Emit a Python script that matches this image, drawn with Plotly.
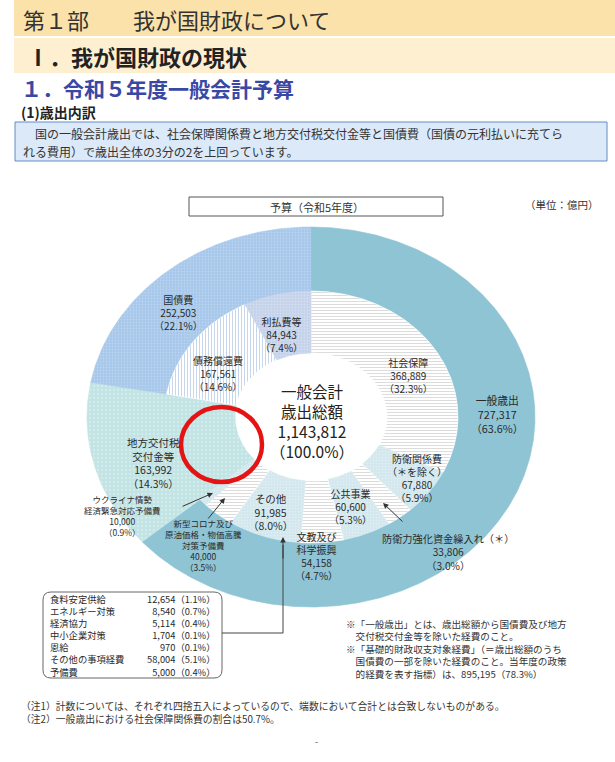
import math
import plotly.graph_objects as go

# ---------------- data ----------------
TOTAL_NAME = ["一般会計", "歳出総額"]
TOTAL_VALUE = 1143812
TOTAL_PCT = 100.0

outer_names = ["一般歳出", "地方交付税交付金等", "国債費"]
outer_values = [727317, 163992, 252503]
outer_pcts = [63.6, 14.3, 22.1]

inner_names = ["社会保障", "防衛関係費（＊を除く）", "防衛力強化資金繰入れ（＊）", "公共事業",
               "文教及び科学振興", "その他", "新型コロナ及び原油価格・物価高騰対策予備費",
               "ウクライナ情勢経済緊急対応予備費", "地方交付税交付金等", "債務償還費", "利払費等"]
inner_values = [368889, 67880, 33806, 60600, 54158, 91985, 40000, 10000, 163992, 167561, 84943]
inner_pcts = [32.3, 5.9, 3.0, 5.3, 4.7, 8.0, 3.5, 0.9, 14.3, 14.6, 7.4]
inner_label_lines = [["社会保障"], ["防衛関係費", "（＊を除く）"], ["防衛力強化資金繰入れ（＊）"], ["公共事業"],
                     ["文教及び", "科学振興"], ["その他"], ["新型コロナ及び", "原油価格・物価高騰", "対策予備費"],
                     ["ウクライナ情勢", "経済緊急対応予備費"], ["地方交付税", "交付金等"], ["債務償還費"], ["利払費等"]]
outer_label_lines = [["一般歳出"], None, ["国債費"]]

other_items = ["食料安定供給", "エネルギー対策", "経済協力", "中小企業対策", "恩給", "その他の事項経費", "予備費"]
other_values = [12654, 8540, 5114, 1704, 970, 58004, 5000]
other_pcts = [1.1, 0.7, 0.4, 0.1, 0.1, 5.1, 0.4]

# ---------------- layout constants ----------------
W, H = 615, 762
FONT = "Noto Sans CJK JP, sans-serif"
TXT = "#2a2a2a"
CX, CY = 311, 417
R_OUT = (224, 190)
R_MID = (147, 126)
R_HOLE = (76, 64)

STYLES = {
    "teal": dict(fillcolor="rgb(143,196,212)"),
    "blue": dict(fillcolor="rgb(166,199,234)",
                 fillpattern=dict(shape=".", bgcolor="rgb(166,199,234)", fgcolor="rgb(208,224,244)", size=3, solidity=0.3)),
    "green": dict(fillcolor="rgb(194,227,228)",
                  fillpattern=dict(shape=".", bgcolor="rgb(194,227,228)", fgcolor="rgb(228,243,243)", size=4, solidity=0.25)),
    "lines": dict(fillcolor="white",
                  fillpattern=dict(shape="-", bgcolor="white", fgcolor="rgb(178,178,178)", size=3, solidity=0.3)),
    "dots": dict(fillcolor="rgb(210,231,237)",
                 fillpattern=dict(shape=".", bgcolor="rgb(210,231,237)", fgcolor="rgb(238,246,248)", size=3, solidity=0.3)),
    "vlines": dict(fillcolor="white",
                   fillpattern=dict(shape="|", bgcolor="white", fgcolor="rgb(140,174,220)", size=3, solidity=0.35)),
    "bluelight": dict(fillcolor="rgb(196,210,233)",
                      fillpattern=dict(shape=".", bgcolor="rgb(196,210,233)", fgcolor="rgb(226,233,245)", size=3, solidity=0.3)),
}
outer_styles = ["teal", "green", "blue"]
inner_styles = ["lines", "dots", "lines", "dots", "lines", "dots", "lines", "dots", None, "vlines", "bluelight"]

# label placement: (x, block centre y, font size)
inner_label_pos = [(408, 375, 10), (417, 477.5, 10), (448, 551.5, 10.2), (350, 506, 10),
                   (316, 555.5, 10), (270, 511.5, 10.5), (203, 545, 8.5),
                   (122, 515, 8.5), (153, 462.5, 10.5), (218, 373, 10), (281, 334, 10)]
outer_label_pos = [(497, 413.5, 10.8), None, (178, 312, 10)]


def arc(t0, t1, rx, ry, n):
    pts = []
    for i in range(n + 1):
        t = math.radians(t0 + (t1 - t0) * i / n)
        pts.append((CX + rx * math.sin(t), CY - ry * math.cos(t)))
    return pts


def wedge(t0, t1, rin, rout):
    n = max(6, int(abs(t1 - t0) * 2))
    o = arc(t0, t1, rout[0], rout[1], n)
    i = arc(t1, t0, rin[0], rin[1], n)
    pts = o + i + [o[0]]
    return [p[0] for p in pts], [p[1] for p in pts]


def add_wedge(fig, t0, t1, rin, rout, style):
    st = STYLES[style]
    xs, ys = wedge(t0, t1, rin, rout)
    kw = dict(x=xs, y=ys, fill="toself", mode="lines",
              line=dict(width=0.6, color=st["fillcolor"]),
              fillcolor=st["fillcolor"], hoverinfo="skip", showlegend=False)
    if "fillpattern" in st:
        kw["fillpattern"] = st["fillpattern"]
    fig.add_trace(go.Scatter(**kw))


fig = go.Figure()

# outer ring
cum = 0
for name, v, style in zip(outer_names, outer_values, outer_styles):
    t0 = cum / TOTAL_VALUE * 360
    cum += v
    t1 = cum / TOTAL_VALUE * 360
    rin = R_HOLE if name in inner_names else R_MID
    add_wedge(fig, t0, t1, rin, R_OUT, style)

# inner ring
cum = 0
for name, v, style in zip(inner_names, inner_values, inner_styles):
    t0 = cum / TOTAL_VALUE * 360
    cum += v
    t1 = cum / TOTAL_VALUE * 360
    if name in outer_names:
        continue
    add_wedge(fig, t0, t1, R_HOLE, R_MID, style)

annotations = []


def txt(s, x, y, size, anchor="center", color=TXT, bold=False, align=None):
    if bold:
        s = "<b>" + s + "</b>"
    annotations.append(dict(text=s, x=x, y=y, xref="x", yref="y", xanchor=anchor, yanchor="middle",
                            align=align or ("left" if anchor == "left" else "right" if anchor == "right" else "center"),
                            showarrow=False, borderpad=0,
                            font=dict(family=FONT, size=size, color=color)))


def block(lines, x, yc, size, anchor="center", color=TXT):
    txt("<br>".join(lines), x, yc, size, anchor=anchor, color=color)


# slice labels
for lines, v, p, pos in zip(inner_label_lines, inner_values, inner_pcts, inner_label_pos):
    block(lines + [f"{v:,}", f"（{p:.1f}%）"], *pos)
for lines, v, p, pos in zip(outer_label_lines, outer_values, outer_pcts, outer_label_pos):
    if lines is None:
        continue
    block(lines + [f"{v:,}", f"（{p:.1f}%）"], *pos)

# center
block(TOTAL_NAME + [f"{TOTAL_VALUE:,}", f"（{TOTAL_PCT:.1f}%）"], 312, 421, 15.5, color="#222")


# arrows
def arrow(x0, y0, x1, y1):
    annotations.append(dict(text="", x=x1, y=y1, ax=x0, ay=y0, xref="x", yref="y", axref="x", ayref="y",
                            showarrow=True, arrowhead=2, arrowsize=1.1, arrowwidth=1, arrowcolor="#333",
                            standoff=0, startstandoff=0))


arrow(404, 523, 383, 503)
arrow(181, 507, 213, 493)
arrow(207, 520, 225, 498)
arrow(283, 560, 283, 537)

# headers
txt("第１部　　我が国財政について", 22, 19, 22, anchor="left", color="#333")
txt("Ⅰ．我が国財政の現状", 26, 56, 22, anchor="left", color="#222", bold=True)
txt("１．令和５年度一般会計予算", 20, 88, 21, anchor="left", color="rgb(58,72,165)", bold=True)
txt("(1)歳出内訳", 20, 112, 14, anchor="left", color="#222", bold=True)
txt("　国の一般会計歳出では、社会保障関係費と地方交付税交付金等と国債費（国債の元利払いに充てら", 22, 133, 12, anchor="left", color="#333")
txt("れる費用）で歳出全体の3分の2を上回っています。", 22, 151, 12, anchor="left", color="#333")

txt("予算（令和5年度）", 317, 207, 11, color="#333")
txt("（単位：億円）", 600, 204, 10.5, anchor="right", color="#333")

# list box
block(other_items, 49, 635, 9.3, anchor="left")
block([f"{v:,}（{p:.1f}%）" for v, p in zip(other_values, other_pcts)], 216, 635, 9.3, anchor="right")

# notes
notes = ["※「一般歳出」とは、歳出総額から国債費及び地方",
         "　交付税交付金等を除いた経費のこと。",
         "※「基礎的財政収支対象経費」（＝歳出総額のうち",
         "　国債費の一部を除いた経費のこと。当年度の政策",
         "　的経費を表す指標）は、895,195（78.3%）"]
block(notes, 345, 649, 9.6, anchor="left", color="#333")

block(["（注1）計数については、それぞれ四捨五入によっているので、端数において合計とは合致しないものがある。",
       "（注2）一般歳出における社会保障関係費の割合は50.7%。"], 20, 712, 9.8, anchor="left", color="#333")
txt("-", 316, 741, 9, color="#555")

shapes = [
    dict(type="rect", x0=14, x1=615, y0=0, y1=36, fillcolor="rgb(251,225,170)", line=dict(width=0), layer="below"),
    dict(type="rect", x0=14, x1=615, y0=38, y1=73, fillcolor="rgb(253,239,208)", line=dict(width=0), layer="below"),
    dict(type="rect", x0=15, x1=607, y0=122, y1=161, fillcolor="rgb(219,233,248)",
         line=dict(width=1, color="rgb(100,140,195)"), layer="below"),
    dict(type="rect", x0=189, x1=443, y0=197, y1=216, line=dict(width=1, color="#555"), layer="below"),
    dict(type="path", path="M 51 592 L 214 592 Q 222 592 222 600 L 222 670 Q 222 678 214 678 L 51 678 "
                            "Q 43 678 43 670 L 43 600 Q 43 592 51 592 Z",
         line=dict(width=1, color="#666")),
    dict(type="path", path="M 222 633 L 283 633 L 283 545", line=dict(width=1, color="#444")),
    dict(type="circle", x0=181, x1=262, y0=407, y1=482, line=dict(width=4.5, color="rgb(228,20,20)")),
]

fig.update_layout(
    width=W, height=H, autosize=False, margin=dict(l=0, r=0, t=0, b=0),
    paper_bgcolor="white", plot_bgcolor="white", showlegend=False,
    xaxis=dict(range=[0, W], visible=False, fixedrange=True),
    yaxis=dict(range=[H, 0], visible=False, fixedrange=True),
    annotations=annotations, shapes=shapes,
)

fig.write_html("out.html")
